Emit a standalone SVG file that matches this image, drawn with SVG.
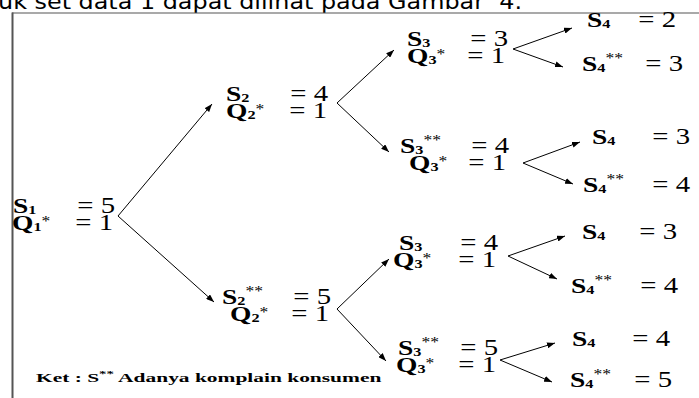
<svg xmlns="http://www.w3.org/2000/svg" width="699" height="398" viewBox="0 0 699 398">
  <defs>
    <marker id="ah" markerUnits="userSpaceOnUse" markerWidth="8" markerHeight="6" refX="8" refY="3" orient="auto">
      <path d="M0,0 L8,3 L0,6 z" fill="#000"/>
    </marker>
    <style>
      .cap { font-family: "DejaVu Sans", Verdana, sans-serif; font-size: 22px; fill: #000; white-space: pre; }
      .frame { stroke: #555; fill: none; }
      .lb { font-family: "Liberation Serif", "Times New Roman", serif; font-weight: bold; font-size: 22px; fill: #000; }
      .sb { font-size: 13px; }
      .st { font-size: 14px; font-weight: normal; fill: #000; }
      .vl { font-family: "Liberation Serif", "Times New Roman", serif; font-size: 23px; fill: #000; text-anchor: end; white-space: pre; }
      .ket { font-family: "Liberation Serif", "Times New Roman", serif; font-weight: bold; font-size: 13px; fill: #000; }
      .ks { font-size: 9px; }
      .cn line { stroke: #000; stroke-width: 1; marker-end: url(#ah); }
    </style>
  </defs>

  <rect width="699" height="398" fill="#fff"/>

  <!-- running caption line, clipped by the page top -->
  <text class="cap" x="-2" y="9" textLength="524" lengthAdjust="spacingAndGlyphs">uk set data 1 dapat dilihat pada Gambar  4.</text>

  <!-- frame -->
  <line class="frame" x1="12" y1="13" x2="699" y2="13" stroke-width="1.2"/>
  <line class="frame" x1="12.5" y1="12.5" x2="12.5" y2="398" stroke-width="2"/>

  <!-- connectors -->
  <g id="connectors" class="cn">
    <line x1="118" y1="216" x2="212" y2="104"/>
    <line x1="118" y1="216" x2="214" y2="302"/>
    <line x1="337" y1="103" x2="394" y2="50"/>
    <line x1="337" y1="103" x2="389" y2="152"/>
    <line x1="337" y1="309" x2="389" y2="259"/>
    <line x1="337" y1="309" x2="386" y2="361"/>
    <line x1="513" y1="49" x2="572" y2="28"/>
    <line x1="513" y1="49" x2="563" y2="67"/>
    <line x1="523" y1="163" x2="580" y2="142"/>
    <line x1="523" y1="163" x2="573" y2="184"/>
    <line x1="508" y1="256" x2="565" y2="236"/>
    <line x1="508" y1="256" x2="557" y2="279"/>
    <line x1="500" y1="360" x2="555" y2="343"/>
    <line x1="500" y1="360" x2="552" y2="382"/>
  </g>

  <!-- level 1 -->
  <g id="n-s1">
    <text class="lb" transform="matrix(1.25 0 0 1 13 213)">S<tspan class="sb" dy="1">1</tspan></text>
    <text class="vl" transform="matrix(1.25 0 0 1 115 213)">= 5</text>
    <text class="lb" transform="matrix(1.25 0 0 1 12 230)">Q<tspan class="sb" dy="1">1</tspan><tspan class="st" dy="-5">*</tspan></text>
    <text class="vl" transform="matrix(1.25 0 0 1 113 230)">= 1</text>
  </g>

  <!-- level 2 -->
  <g id="n-s2a">
    <text class="lb" transform="matrix(1.25 0 0 1 226 101)">S<tspan class="sb" dy="1">2</tspan></text>
    <text class="vl" transform="matrix(1.25 0 0 1 328 101)">= 4</text>
    <text class="lb" transform="matrix(1.25 0 0 1 226 118)">Q<tspan class="sb" dy="1">2</tspan><tspan class="st" dy="-5">*</tspan></text>
    <text class="vl" transform="matrix(1.25 0 0 1 327 118)">= 1</text>
  </g>
  <g id="n-s2b">
    <text class="lb" transform="matrix(1.25 0 0 1 222 304)">S<tspan class="sb" dy="1">2</tspan><tspan class="st" dy="-9">**</tspan></text>
    <text class="vl" transform="matrix(1.25 0 0 1 331 304)">= 5</text>
    <text class="lb" transform="matrix(1.25 0 0 1 230 321)">Q<tspan class="sb" dy="1">2</tspan><tspan class="st" dy="-5">*</tspan></text>
    <text class="vl" transform="matrix(1.25 0 0 1 329 321)">= 1</text>
  </g>

  <!-- level 3 -->
  <g id="n-s3a">
    <text class="lb" transform="matrix(1.25 0 0 1 407 46)">S<tspan class="sb" dy="1">3</tspan></text>
    <text class="vl" transform="matrix(1.25 0 0 1 508 46)">= 3</text>
    <text class="lb" transform="matrix(1.25 0 0 1 407 63)">Q<tspan class="sb" dy="1">3</tspan><tspan class="st" dy="-5">*</tspan></text>
    <text class="vl" transform="matrix(1.25 0 0 1 505 63)">= 1</text>
  </g>
  <g id="n-s3b">
    <text class="lb" transform="matrix(1.25 0 0 1 400 153)">S<tspan class="sb" dy="1">3</tspan><tspan class="st" dy="-9">**</tspan></text>
    <text class="vl" transform="matrix(1.25 0 0 1 509 153)">= 4</text>
    <text class="lb" transform="matrix(1.25 0 0 1 409 170)">Q<tspan class="sb" dy="1">3</tspan><tspan class="st" dy="-5">*</tspan></text>
    <text class="vl" transform="matrix(1.25 0 0 1 506 170)">= 1</text>
  </g>
  <g id="n-s3c">
    <text class="lb" transform="matrix(1.25 0 0 1 399 250)">S<tspan class="sb" dy="1">3</tspan></text>
    <text class="vl" transform="matrix(1.25 0 0 1 498 250)">= 4</text>
    <text class="lb" transform="matrix(1.25 0 0 1 393 267)">Q<tspan class="sb" dy="1">3</tspan><tspan class="st" dy="-5">*</tspan></text>
    <text class="vl" transform="matrix(1.25 0 0 1 496 267)">= 1</text>
  </g>
  <g id="n-s3d">
    <text class="lb" transform="matrix(1.25 0 0 1 398 355)">S<tspan class="sb" dy="1">3</tspan><tspan class="st" dy="-9">**</tspan></text>
    <text class="vl" transform="matrix(1.25 0 0 1 498 355)">= 5</text>
    <text class="lb" transform="matrix(1.25 0 0 1 396 372)">Q<tspan class="sb" dy="1">3</tspan><tspan class="st" dy="-5">*</tspan></text>
    <text class="vl" transform="matrix(1.25 0 0 1 496 372)">= 1</text>
  </g>

  <!-- level 4 -->
  <g id="n-s4a">
    <text class="lb" transform="matrix(1.25 0 0 1 587 27)">S<tspan class="sb" dy="1">4</tspan></text>
    <text class="vl" transform="matrix(1.25 0 0 1 676 27)">= 2</text>
  </g>
  <g id="n-s4b">
    <text class="lb" transform="matrix(1.25 0 0 1 582 71)">S<tspan class="sb" dy="1">4</tspan><tspan class="st" dy="-9">**</tspan></text>
    <text class="vl" transform="matrix(1.25 0 0 1 683 71)">= 3</text>
  </g>
  <g id="n-s4c">
    <text class="lb" transform="matrix(1.25 0 0 1 592 144)">S<tspan class="sb" dy="1">4</tspan></text>
    <text class="vl" transform="matrix(1.25 0 0 1 690 144)">= 3</text>
  </g>
  <g id="n-s4d">
    <text class="lb" transform="matrix(1.25 0 0 1 583 192)">S<tspan class="sb" dy="1">4</tspan><tspan class="st" dy="-9">**</tspan></text>
    <text class="vl" transform="matrix(1.25 0 0 1 690 192)">= 4</text>
  </g>
  <g id="n-s4e">
    <text class="lb" transform="matrix(1.25 0 0 1 582 239)">S<tspan class="sb" dy="1">4</tspan></text>
    <text class="vl" transform="matrix(1.25 0 0 1 677 239)">= 3</text>
  </g>
  <g id="n-s4f">
    <text class="lb" transform="matrix(1.25 0 0 1 571 293)">S<tspan class="sb" dy="1">4</tspan><tspan class="st" dy="-9">**</tspan></text>
    <text class="vl" transform="matrix(1.25 0 0 1 678 293)">= 4</text>
  </g>
  <g id="n-s4g">
    <text class="lb" transform="matrix(1.25 0 0 1 572 346)">S<tspan class="sb" dy="1">4</tspan></text>
    <text class="vl" transform="matrix(1.25 0 0 1 670 346)">= 4</text>
  </g>
  <g id="n-s4h">
    <text class="lb" transform="matrix(1.25 0 0 1 570 387)">S<tspan class="sb" dy="1">4</tspan><tspan class="st" dy="-9">**</tspan></text>
    <text class="vl" transform="matrix(1.25 0 0 1 672 387)">= 5</text>
  </g>

  <!-- legend -->
  <g id="legend">
    <text class="ket" transform="matrix(1.65 0 0 1 36 382)">Ket : S<tspan class="ks" dy="-5">**</tspan><tspan dy="5"> Adanya komplain konsumen</tspan></text>
  </g>
</svg>
